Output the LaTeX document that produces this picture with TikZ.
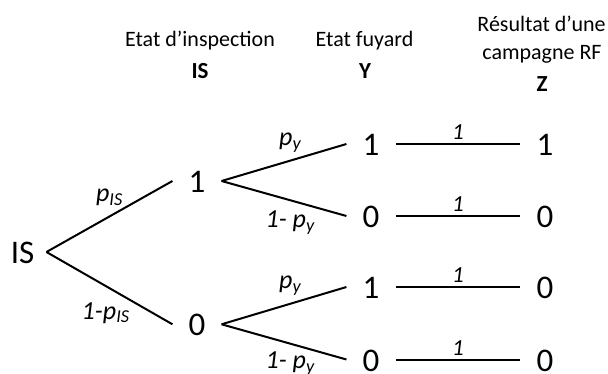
\documentclass[tikz,border=0pt]{standalone}
\usepackage{fontspec}
\setmainfont{Carlito}
\usetikzlibrary{positioning}

\begin{document}
\begin{tikzpicture}[x=1pt,y=-1pt,
  state/.style={inner xsep=16pt, inner ysep=0pt, text height=23pt, text depth=0pt,
    font=\fontsize{33}{36}\selectfont},
  edge/.style={line width=2pt},
  prob/.style={font=\fontsize{26}{30}\selectfont\itshape, inner sep=0pt},
  one/.style={font=\fontsize{23}{26}\selectfont\itshape, inner sep=0pt},
  head/.style={font=\fontsize{22}{26}\selectfont, anchor=base, inner sep=0pt},
  var/.style={font=\fontsize{23}{26}\selectfont\bfseries, anchor=base, inner sep=0pt}]
\useasboundingbox (0,0) rectangle (608,374);
% Column headers
\node[head] (hIS) at (200,46.7) {Etat d’inspection};
\node[var] (vIS) at (200,78.3) {IS};
\node[head] (hY) at (364.5,46.7) {Etat fuyard};
\node[var] (vY) at (365,78.3) {Y};
\node[head] (hZa) at (541.5,31.7) {Résultat d’une};
\node[head] (hZb) at (542,60) {campagne RF};
\node[var] (vZ) at (542,91.7) {Z};
% Tree states
\node[state, inner xsep=12pt] (root) at (22.5,252) {IS};
\node[state] (is1) at (197,181) {1};
\node[state] (is0) at (197,324.3) {0};
\node[state] (y11) at (371,144) {1};
\node[state] (y10) at (371,216) {0};
\node[state] (y01) at (371,287) {1};
\node[state] (y00) at (371,359.5) {0};
\node[state] (z11) at (545,144) {1};
\node[state] (z10) at (545,216) {0};
\node[state] (z01) at (545,287) {0};
\node[state] (z00) at (545,359.5) {0};
% Branches with probabilities
\draw[edge] (root.east) -- node[prob, pos=0.5, yshift=19pt] {p\textsubscript{IS}} (is1.west);
\draw[edge] (root.east) -- node[prob, pos=0.47, yshift=-27pt] {1-p\textsubscript{IS}} (is0.west);
\draw[edge] (is1.east) -- node[prob, pos=0.55, yshift=18pt] {p\textsubscript{y}} (y11.west);
\draw[edge] (is1.east) -- node[prob, pos=0.55, yshift=-22pt] {1- p\textsubscript{y}} (y10.west);
\draw[edge] (is0.east) -- node[prob, pos=0.55, yshift=18pt] {p\textsubscript{y}} (y01.west);
\draw[edge] (is0.east) -- node[prob, pos=0.55, yshift=-20pt] {1- p\textsubscript{y}} (y00.west);
% Deterministic step to Z
\foreach \a/\b in {y11/z11, y10/z10, y01/z01, y00/z00}
  \draw[edge] (\a.east) -- node[one, above=3pt] {1} (\b.west);
\end{tikzpicture}
\end{document}
